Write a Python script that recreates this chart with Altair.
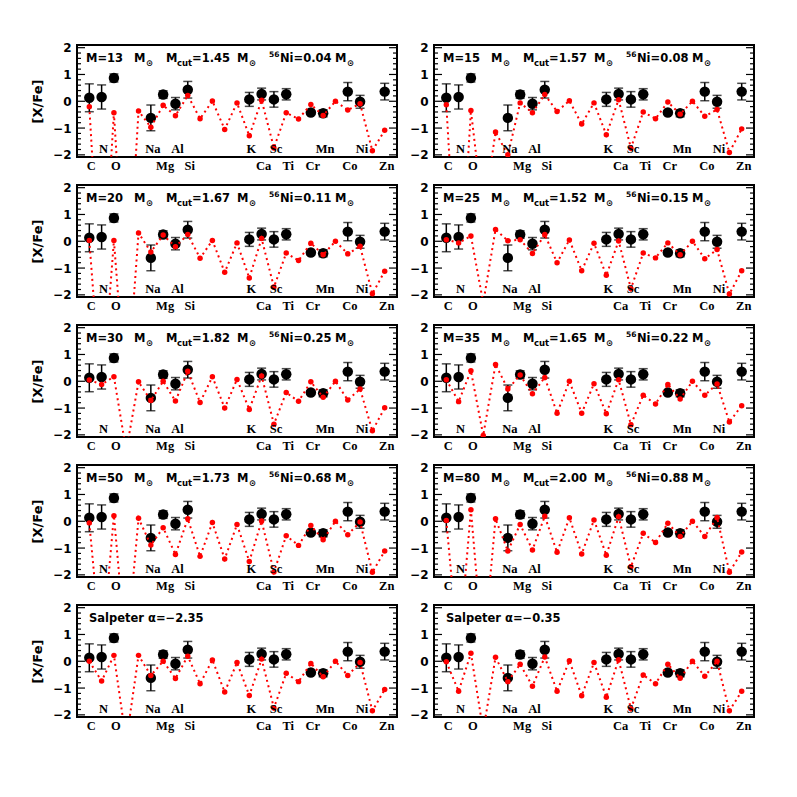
import altair as alt
import pandas as pd

# ---------------- data ----------------
Z = list(range(6, 31))  # C ... Zn

OBS_Z = [6, 7, 8, 11, 12, 13, 14, 19, 20, 21, 22, 24, 25, 27, 28, 30]
OBS_VAL = [0.13, 0.16, 0.87, -0.62, 0.25, -0.09, 0.43, 0.07, 0.27, 0.07, 0.26, -0.42, -0.45, 0.36, -0.02, 0.36]
OBS_ERR = [0.52, 0.45, 0.15, 0.48, 0.14, 0.23, 0.31, 0.26, 0.22, 0.29, 0.21, 0.05, 0.13, 0.34, 0.24, 0.31]

UPPER_LABELS = ["N", "Na", "Al", "K", "Sc", "Mn", "Ni"]
UPPER_Z = [7, 11, 13, 19, 21, 25, 28]
LOWER_LABELS = ["C", "O", "Mg", "Si", "Ca", "Ti", "Cr", "Co", "Zn"]
LOWER_Z = [6, 8, 12, 14, 20, 22, 24, 27, 30]

MODEL_M13 = [-0.20, -8.0, -0.43, -8.0, -0.36, -0.97, -0.15, -0.54, 0.22, -0.65, 0.01, -1.05, -0.06,
             -1.29, 0.04, -1.74, -0.43, -0.66, -0.12, -0.53, 0.0, -0.33, -0.09, -1.85, -1.08]
MODEL_M15 = [-0.13, -8.0, -0.34, -4.3, -1.15, -2.00, -0.06, -0.43, 0.25, -0.38, 0.02, -0.85, -0.06,
             -1.25, 0.06, -1.75, -0.40, -0.65, -0.03, -0.48, 0.0, -0.56, -0.31, -1.91, -1.03]
MODEL_M20 = [0.03, -6.0, 0.03, -6.0, 0.31, -0.40, 0.23, -0.20, 0.25, -0.63, 0.03, -1.16, -0.06,
             -1.37, 0.10, -1.71, -0.44, -0.72, -0.07, -0.50, 0.0, -0.47, -0.19, -1.96, -1.12]
MODEL_M25 = [0.06, -0.06, 0.20, -2.3, 0.44, 0.02, 0.06, -0.46, 0.25, -0.80, 0.05, -1.10, -0.07,
             -1.27, 0.01, -1.77, -0.44, -0.62, -0.06, -0.50, 0.0, -0.65, -0.31, -1.97, -1.10]
MODEL_M30 = [0.05, -0.12, 0.17, -2.6, -0.02, -0.72, 0.0, -0.74, 0.37, -0.79, 0.17, -1.00, 0.07,
             -1.05, 0.20, -1.60, -0.42, -0.75, -0.02, -0.60, 0.0, -0.70, -0.29, -1.85, -0.99]
MODEL_M35 = [0.06, -0.76, 0.39, -2.02, 0.63, -0.29, 0.23, -0.47, 0.14, -1.19, 0.0, -1.19, -0.09,
             -1.21, 0.06, -1.62, -0.52, -0.85, -0.12, -0.66, 0.0, -0.52, -0.10, -1.52, -0.91]
MODEL_M50 = [-0.06, -5.0, 0.21, -5.0, 0.11, -0.89, -0.24, -1.24, 0.09, -1.31, -0.05, -1.41, -0.12,
             -1.50, 0.01, -1.89, -0.54, -0.90, -0.16, -0.69, 0.0, -0.50, -0.03, -1.90, -1.11]
MODEL_M80 = [0.03, -5.0, 0.43, -5.0, 0.09, -1.11, -0.12, -1.07, 0.19, -1.16, 0.13, -1.22, 0.05,
             -1.27, 0.17, -1.70, -0.45, -0.79, -0.07, -0.57, 0.0, -0.57, 0.14, -1.90, -1.15]
SALP_235 = [0.0, -0.74, 0.22, -3.0, 0.22, -0.53, 0.0, -0.64, 0.19, -0.84, 0.05, -1.15, -0.05,
            -1.28, 0.08, -1.74, -0.45, -0.76, -0.08, -0.58, 0.0, -0.53, -0.05, -1.85, -1.05]
SALP_035 = [-0.02, -1.12, 0.30, -2.6, 0.15, -0.76, -0.11, -0.93, 0.16, -1.12, 0.02, -1.29, -0.05,
            -1.34, 0.06, -1.77, -0.51, -0.84, -0.11, -0.63, 0.0, -0.56, 0.0, -1.85, -1.12]

MASSES = ["13", "15", "20", "25", "30", "35", "50", "80"]
MCUTS = ["1.45", "1.57", "1.67", "1.52", "1.82", "1.65", "1.73", "2.00"]
NI56 = ["0.04", "0.08", "0.11", "0.15", "0.25", "0.22", "0.68", "0.88"]
MODELS = [MODEL_M13, MODEL_M15, MODEL_M20, MODEL_M25, MODEL_M30, MODEL_M35, MODEL_M50, MODEL_M80]
SALP_ALPHAS = ["\u22122.35", "\u22120.35"]
SALP_MODELS = [SALP_235, SALP_035]

MAJOR_TICKS = [-2, -1, 0, 1, 2]
MINOR_TICKS = [round(-2 + 0.2 * i, 1) for i in range(21) if i % 5 != 0]

# ---------------- layout ----------------
W, H = 320, 112
XDOM = [5, 31]
YDOM = [-2.08, 2.1]
PXU = W / (XDOM[1] - XDOM[0])
PYU = H / (YDOM[1] - YDOM[0])
SANS = "DejaVu Sans"
SERIF = "Liberation Serif"
RED = "#ff0000"


def px2x(p):
    return XDOM[0] + p / PXU


def px2y(p):
    return YDOM[1] - p / PYU


xs = alt.Scale(domain=XDOM, nice=False, zero=False)
ys = alt.Scale(domain=YDOM, nice=False, zero=False)


def yaxis(left):
    return alt.Axis(values=MAJOR_TICKS, ticks=False, domain=False, grid=False,
                    labelFont=SANS, labelFontSize=12, labelFontWeight="bold",
                    labelColor="black", labelPadding=6,
                    title="[X/Fe]" if left else "", titleFont=SANS, titleFontSize=13,
                    titleFontWeight="bold", titleColor="black", titlePadding=8)


def X(field):
    return alt.X(field, type="quantitative", scale=xs, axis=None)


def Y(field, left):
    return alt.Y(field, type="quantitative", scale=ys, axis=yaxis(left))


def panel(model, left, ann):
    obs = pd.DataFrame({"Z": OBS_Z, "v": OBS_VAL, "e": OBS_ERR})
    obs["lo"] = obs["v"] - obs["e"]
    obs["hi"] = obs["v"] + obs["e"]
    mod = pd.DataFrame({"Z": Z, "v": model})
    maj = pd.DataFrame({"t": MAJOR_TICKS})
    mnr = pd.DataFrame({"t": MINOR_TICKS})

    layers = []
    for df, ln in ((maj, 8), (mnr, 4)):
        layers.append(alt.Chart(df).mark_rule(color="black", strokeWidth=1.2).encode(
            x=alt.value(0), x2=alt.value(ln), y=Y("t", left)))
        layers.append(alt.Chart(df).mark_rule(color="black", strokeWidth=1.2).encode(
            x=alt.value(W - ln), x2=alt.value(W), y=Y("t", left)))

    ob = alt.Chart(obs)
    layers.append(ob.mark_rule(color="black", strokeWidth=1.5).encode(
        x=X("Z"), y=Y("lo", left), y2=alt.Y2("hi")))
    for f in ("lo", "hi"):
        layers.append(ob.mark_tick(color="black", orient="horizontal", size=9, thickness=1.5).encode(
            x=X("Z"), y=Y(f, left)))
    layers.append(ob.mark_circle(color="black", size=110, opacity=1).encode(
        x=X("Z"), y=Y("v", left)))

    md = alt.Chart(mod)
    layers.append(md.mark_line(color=RED, strokeWidth=2, strokeDash=[2, 3.5], clip=True).encode(
        x=X("Z"), y=Y("v", left)))
    layers.append(md.mark_circle(color=RED, size=30, opacity=1, clip=True).encode(
        x=X("Z"), y=Y("v", left)))

    up = pd.DataFrame({"Z": UPPER_Z, "lab": UPPER_LABELS, "y": [YDOM[0]] * len(UPPER_Z)})
    lw = pd.DataFrame({"Z": LOWER_Z, "lab": LOWER_LABELS, "y": [YDOM[0]] * len(LOWER_Z)})
    layers.append(alt.Chart(up).mark_text(font=SERIF, fontSize=12.5, fontWeight="bold", color="black",
                                          baseline="bottom", align="center", dx=2, dy=-1).encode(
        x=X("Z"), y=Y("y", left), text="lab:N"))
    layers.append(alt.Chart(lw).mark_text(font=SERIF, fontSize=12.5, fontWeight="bold", color="black",
                                          baseline="top", align="center", dx=2, dy=3).encode(
        x=X("Z"), y=Y("y", left), text="lab:N"))

    # annotation pieces: (text, px offset, style)
    styles = {"n": (11.5, 14), "sub": (8.5, 18), "sup": (7.5, 10)}
    for style in styles:
        pieces = [p for p in ann if p[2] == style]
        if not pieces:
            continue
        fs, py = styles[style]
        df = pd.DataFrame({"x": [px2x(p[1]) for p in pieces],
                           "y": [px2y(py)] * len(pieces),
                           "t": [p[0] for p in pieces]})
        layers.append(alt.Chart(df).mark_text(font=SANS, fontSize=fs, fontWeight="bold", color="black",
                                              align="left", baseline="middle").encode(
            x=X("x"), y=Y("y", left), text="t:N"))

    return alt.layer(*layers).properties(width=W, height=H)


def model_ann(m, cut, ni):
    return [(f"M={m}", 9, "n"), ("M", 57, "n"), ("\u2299", 69, "sub"),
            ("M", 89, "n"), ("cut", 100, "sub"), (f"={cut}", 115, "n"),
            ("M", 160, "n"), ("\u2299", 172, "sub"),
            ("56", 192, "sup"), (f"Ni={ni}", 203, "n"),
            ("M", 258, "n"), ("\u2299", 270, "sub")]


panels = []
for i, (m, cut, ni, mv) in enumerate(zip(MASSES, MCUTS, NI56, MODELS)):
    panels.append(panel(mv, i % 2 == 0, model_ann(m, cut, ni)))
for i, (a, mv) in enumerate(zip(SALP_ALPHAS, SALP_MODELS)):
    panels.append(panel(mv, i % 2 == 0, [(f"Salpeter \u03b1={a}", 12, "n")]))

chart = alt.concat(*panels, columns=2, spacing={"row": 28, "column": 37}, bounds="flush").properties(
    padding={"left": 22, "top": 32, "right": 5, "bottom": 5},
    background="white",
).configure_view(stroke="black", strokeWidth=2)

chart.save("out.html", embed_options={"renderer": "svg", "actions": False})
